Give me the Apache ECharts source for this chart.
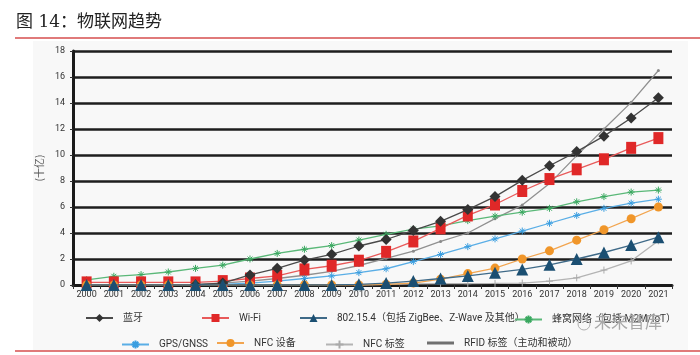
<!DOCTYPE html>
<html>
<head>
<meta charset="utf-8">
<script src="https://cdn.jsdelivr.net/npm/echarts@6/dist/echarts.min.js"></script>
<style>html,body{margin:0;padding:0;background:#fff}#c{width:700px;height:355px}</style>
</head>
<body>
<div id="c"></div>
<script>
var years = ['2000','2001','2002','2003','2004','2005','2006','2007','2008','2009','2010','2011','2012','2013','2014','2015','2016','2017','2018','2019','2020','2021'];
var yTicks = [0,2,4,6,8,10,12,14,16,18];
var bluetooth = [null,null,null,null,0.02,0.15,0.77,1.28,1.92,2.36,3.0,3.5,4.2,4.9,5.8,6.8,8.05,9.17,10.26,11.45,12.85,14.4];
var wifi = [0.2,0.2,0.2,0.2,0.2,0.3,0.5,0.7,1.2,1.48,1.87,2.55,3.35,4.36,5.35,6.19,7.23,8.15,8.9,9.67,10.55,11.3];
var ieee802154 = [0,0,0,0,0,0,0,0,0,0,0.05,0.15,0.3,0.5,0.7,0.95,1.2,1.55,2.0,2.5,3.07,3.68];
var cellular = [0.4,0.67,0.8,1.0,1.28,1.53,2.0,2.43,2.75,3.03,3.46,3.9,4.3,4.55,4.95,5.3,5.6,5.9,6.4,6.8,7.15,7.3];
var gps = [null,null,null,null,null,0.05,0.15,0.3,0.5,0.7,0.95,1.25,1.8,2.35,2.95,3.55,4.15,4.75,5.35,5.9,6.3,6.6];
var nfcDevice = [0,0,0,0,0,0,0,0,0,0,0,0.05,0.15,0.45,0.88,1.3,2.0,2.63,3.45,4.25,5.1,6.0];
var nfcTag = [null,null,null,null,null,null,null,null,null,null,0,0.05,0.08,0.1,0.1,0.12,0.15,0.3,0.55,1.15,1.85,3.4];
var rfidTag = [null,null,null,null,0.05,0.15,0.3,0.5,0.75,1.05,1.5,2.05,2.6,3.35,4.0,5.1,6.15,7.8,9.95,12.0,14.05,16.5];
var names = ['蓝牙','Wi-Fi','802.15.4（包括 ZigBee、Z-Wave 及其他）','蜂窝网络（包括 M2M/IoT）','GPS/GNSS','NFC 设备','NFC 标签','RFID 标签（主动和被动）'];

var star = 'path://M5,0L5,10M0,5L10,5M1.5,1.5L8.5,8.5M8.5,1.5L1.5,8.5';
var cross = 'path://M0,5L10,5M5,0L5,10';

function mk(name, data, color, lineColor, symbol, size, z, extra) {
  var s = {
    name: name, type: 'line', data: data, z: z,
    symbol: symbol, symbolSize: size, showSymbol: true,
    lineStyle: {color: lineColor, width: 1.3},
    itemStyle: {color: color},
    emphasis: {disabled: true},
    animation: false
  };
  if (extra) for (var k in extra) s[k] = extra[k];
  return s;
}

var series = [
  mk(names[0], bluetooth, '#333333', '#4a4a4a', 'diamond', 11, 6),
  mk(names[1], wifi, '#e02828', '#e85a5a', 'rect', [10,12], 5),
  mk(names[2], ieee802154, '#1b4f72', '#3f6a88', 'triangle', 12, 8),
  mk(names[3], cellular, '#3aa860', '#5ab878', star, 7, 4, {itemStyle:{color:'none',borderColor:'#3aa860',borderWidth:1}}),
  mk(names[4], gps, '#3a9ee0', '#5aaee6', star, 7, 4, {itemStyle:{color:'none',borderColor:'#3a9ee0',borderWidth:1}}),
  mk(names[5], nfcDevice, '#f0962a', '#f2a550', 'circle', 9, 5),
  mk(names[6], nfcTag, '#aaaaaa', '#b4b4b4', cross, 7, 3, {itemStyle:{color:'none',borderColor:'#aaaaaa',borderWidth:1}}),
  mk(names[7], rfidTag, '#8a8a8a', '#909090', 'circle', 3, 3)
];

var legendPos = [
  [80, 308], [196, 308], [294, 308], [509, 308],
  [116, 333], [211, 333], [320, 333], [422, 333]
];
var legends = names.map(function(n, i){
  var d = (i === 7) ? [{name: n, icon: 'rect', itemStyle: {color: '#707070'}}] : [n];
  return {
    data: d, left: legendPos[i][0], top: legendPos[i][1],
    itemWidth: 27, itemHeight: (i === 7) ? 3 : 10, itemGap: 0,
    textStyle: {fontSize: 10, color: '#333', fontFamily: 'Roboto, "Noto Sans CJK SC"', padding: [0,0,0,5]},
    selectedMode: false
  };
});

var chart = echarts.init(document.getElementById('c'), null, {renderer: 'canvas'});
chart.setOption({
  backgroundColor: '#ffffff',
  animation: false,
  graphic: [
    {type: 'rect', shape: {x: 33, y: 41, width: 655, height: 309}, style: {fill: '#f8f8f8'}, z: -10, silent: true},
    {type: 'text', left: 16, top: 14, style: {text: '图 14：物联网趋势', fontSize: 17, fill: '#222', fontFamily: '"DejaVu Serif", "Noto Sans CJK SC"'}},
    {type: 'rect', shape: {x: 15, y: 37, width: 685, height: 2}, style: {fill: '#e07a7a'}},
    {type: 'rect', shape: {x: 15, y: 350, width: 685, height: 2}, style: {fill: '#e07a7a'}},
    {type: 'text', left: 594, top: 313, style: {text: '未来智库', fontSize: 17, fill: '#a8a8a8', fontFamily: '"Noto Sans CJK SC"'}, z: 100},
    {type: 'circle', shape: {cx: 584, cy: 324, r: 6}, style: {fill: 'none', stroke: '#b0b0b0', lineWidth: 1}, z: 100}
  ],
  grid: {left: 73, right: 28, top: 51, bottom: 70},
  legend: legends,
  xAxis: {
    type: 'category', data: years, boundaryGap: true,
    axisLine: {lineStyle: {color: '#1a1a1a', width: 3}},
    axisTick: {show: true, length: 4, lineStyle: {color: '#333', width: 1}},
    axisLabel: {fontSize: 9, color: '#333', margin: 5, fontFamily: 'Roboto'}
  },
  yAxis: {
    type: 'value', min: yTicks[0], max: yTicks[yTicks.length-1], interval: 2,
    name: '(十亿)', nameLocation: 'middle', nameGap: 24, nameRotate: 90,
    nameTextStyle: {fontSize: 10, color: '#555', fontFamily: '"Noto Sans CJK SC"'},
    axisLine: {show: true, lineStyle: {color: '#1a1a1a', width: 3}},
    axisTick: {show: true, length: 3, lineStyle: {color: '#333'}},
    axisLabel: {fontSize: 9, color: '#333', margin: 8, fontFamily: 'Roboto'},
    splitLine: {show: true, lineStyle: {color: '#1e1e1e', width: 2.5}}
  },
  series: series
});
</script>
</body>
</html>
